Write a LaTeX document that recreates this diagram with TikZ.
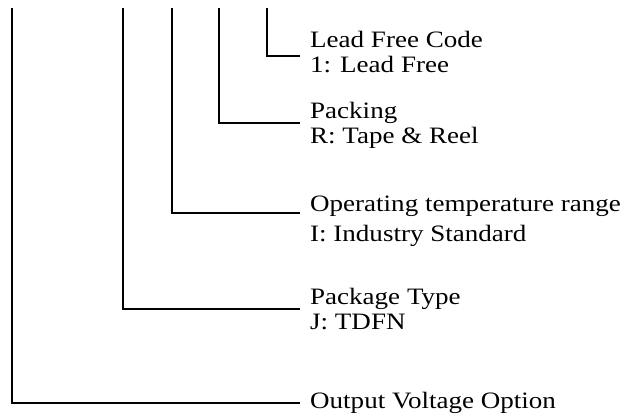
\documentclass[tikz,border=0pt]{standalone}
\usepackage{fontspec}
\setmainfont[FakeStretch=1.15]{Liberation Serif}
\usetikzlibrary{positioning}

\begin{document}
\begin{tikzpicture}[x=1pt,y=-1pt,
  lbl/.style={anchor=west,align=left,inner xsep=10pt,inner ysep=0pt,
    font=\fontsize{23.5}{25}\selectfont},
  wire/.style={line width=1.2pt}
]
  \useasboundingbox (0,0) rectangle (635,417);

  % Lead free code
  \coordinate (leadtop) at (267,8);
  \coordinate (leadend) at (300,56);
  \node[lbl,right=0pt of leadend,yshift=4pt] (lead) {Lead Free Code\\1: Lead Free};
  \draw[wire] (leadtop) |- (leadend);

  % Packing
  \coordinate (packtop) at (219,8);
  \coordinate (packend) at (300,123);
  \node[lbl,right=0pt of packend,yshift=-2pt] (pack) {Packing\\R: Tape \& Reel};
  \draw[wire] (packtop) |- (packend);

  % Temperature range
  \coordinate (temptop) at (172,8);
  \coordinate (tempend) at (300,213);
  \node[lbl,right=0pt of tempend,yshift=-8pt] (temp)
    {Operating temperature range\\[5pt]I: Industry Standard};
  \draw[wire] (temptop) |- (tempend);

  % Package type
  \coordinate (pkgtop) at (123,8);
  \coordinate (pkgend) at (300,309);
  \node[lbl,right=0pt of pkgend] (pkg) {Package Type\\J: TDFN};
  \draw[wire] (pkgtop) |- (pkgend);

  % Output voltage
  \coordinate (vouttop) at (12,8);
  \coordinate (voutend) at (300,403);
  \node[lbl,right=0pt of voutend] (vout) {Output Voltage Option};
  \draw[wire] (vouttop) |- (voutend);
\end{tikzpicture}
\end{document}
